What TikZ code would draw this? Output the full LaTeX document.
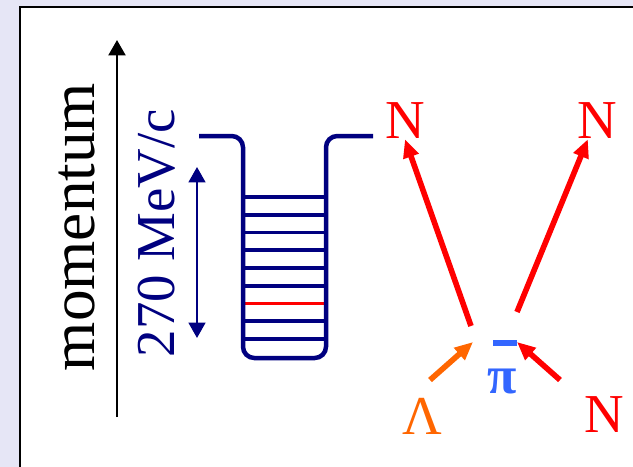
\documentclass[tikz,border=0pt]{standalone}
\usepackage{fontspec}
\setmainfont{Liberation Serif}
\usetikzlibrary{arrows.meta}
\definecolor{slidebg}{RGB}{230,230,246}
\definecolor{wellblue}{RGB}{0,0,128}
\definecolor{pionblue}{RGB}{51,102,255}
\definecolor{lambdaorange}{RGB}{255,102,0}

\begin{document}
\begin{tikzpicture}[
            x=0.025cm, y=-0.025cm,
            particle/.style={
                inner sep=0pt,
                font=\fontsize{39}{39}\selectfont
            },
            well/.style={
                wellblue,
                line width=3.2pt,
                rounded corners=8pt
            },
            level/.style={
                wellblue,
                line width=2.6pt
            },
            track/.style={
                line width=4pt,
                -{Triangle[length=13pt,width=11pt]}
            }
        ]

            \fill[slidebg] (0,0) rectangle (633,467);
            \useasboundingbox (0,0) rectangle (633,467);
            \filldraw[fill=white, draw=black, line width=1.5pt] (20,7) rectangle (645,480);

            \node[inner sep=0pt, rotate=90, font=\fontsize{45}{45}\selectfont] (mom) at (77,227) {momentum};
            \coordinate (pbot) at (117,417);
            \coordinate (ptop) at (117,40);
            \draw[line width=2pt, -{Triangle[length=11pt,width=12pt]}] (pbot) -- (ptop);

            \node[inner sep=0pt, rotate=90, text=wellblue, font=\fontsize{39}{39}\selectfont] (depth) at (157,233) {270 MeV/c};
            \coordinate (dbot) at (197,338);
            \coordinate (dtop) at (197,167);
            \draw[wellblue, line width=1.6pt, {Triangle[length=11pt,width=12pt]}-{Triangle[length=11pt,width=12pt]}] (dbot) -- (dtop);

            \foreach \i in {0,1,2,3,4,5,7,8}
                \draw[level] (243,197+17.75*\i) -- (326,197+17.75*\i);
            \draw[level, red] (243,303.5) -- (326,303.5);
            \draw[well] (199,136) -- (243,136) -- (243,358) -- (326,358) -- (326,136) -- (373,136);

            \node[particle, text=red] (N1) at (405,121) {N};
            \node[particle, text=red] (N2) at (597,121) {N};
            \node[particle, text=red] (N3) at (604,415) {N};
            \node[particle, text=lambdaorange] (lam) at (422,416) {Λ};
            \node[particle, text=pionblue, font=\fontsize{38}{38}\selectfont\bfseries] (pi) at (502,381) {π};
            \fill[pionblue] (493,340) rectangle (517,346);

            \coordinate (v1) at (471,326);
            \coordinate (v2) at (517,312);
            \coordinate (vl) at (473,342);
            \coordinate (vn) at (517,342);
            \coordinate (lt) at (430,380);
            \coordinate (nt) at (560,380);

            \draw[track, red] (v1) -- (N1.south);
            \draw[track, red] (v2) -- ([xshift=-6.5pt]N2.south);
            \draw[track, lambdaorange] (lt) -- (vl);
            \draw[track, red] (nt) -- (vn);

        \end{tikzpicture}
\end{document}
